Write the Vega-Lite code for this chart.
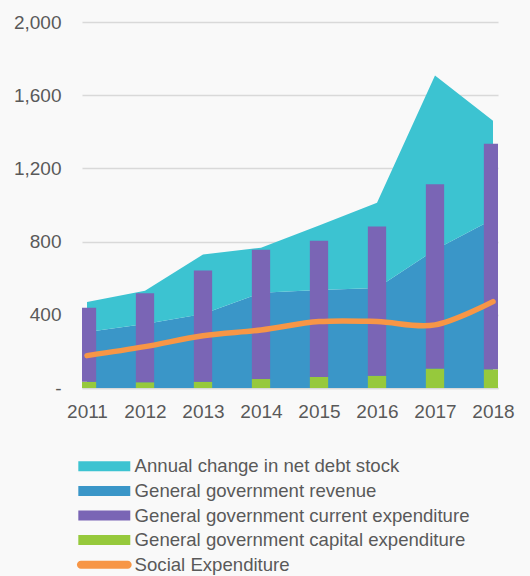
{
  "$schema": "https://vega.github.io/schema/vega-lite/v6.json",
  "autosize": "none",
  "width": 416,
  "height": 366,
  "padding": {"left": 82, "top": 22, "right": 32, "bottom": 188},
  "background": "#f9f9f9",
  "config": {
    "view": {"stroke": null},
    "font": "Liberation Sans",
    "axis": {"labelFont": "Liberation Sans", "labelColor": "#595959", "labelFontSize": 19},
    "legend": {"labelFont": "Liberation Sans", "labelColor": "#595959", "labelFontSize": 18.6, "labelLimit": 0}
  },
  "datasets": {
    "areas": [
      {"year": 2011, "series": "General government revenue", "value": 306},
      {"year": 2012, "series": "General government revenue", "value": 350},
      {"year": 2013, "series": "General government revenue", "value": 405},
      {"year": 2014, "series": "General government revenue", "value": 520},
      {"year": 2015, "series": "General government revenue", "value": 536},
      {"year": 2016, "series": "General government revenue", "value": 547},
      {"year": 2017, "series": "General government revenue", "value": 755},
      {"year": 2018, "series": "General government revenue", "value": 922},
      {"year": 2011, "series": "Annual change in net debt stock", "value": 164},
      {"year": 2012, "series": "Annual change in net debt stock", "value": 182},
      {"year": 2013, "series": "Annual change in net debt stock", "value": 324},
      {"year": 2014, "series": "Annual change in net debt stock", "value": 247},
      {"year": 2015, "series": "Annual change in net debt stock", "value": 352},
      {"year": 2016, "series": "Annual change in net debt stock", "value": 465},
      {"year": 2017, "series": "Annual change in net debt stock", "value": 953},
      {"year": 2018, "series": "Annual change in net debt stock", "value": 538}
    ],
    "bars": [
      {"year": 2011, "series": "General government capital expenditure", "value": 34},
      {"year": 2012, "series": "General government capital expenditure", "value": 31},
      {"year": 2013, "series": "General government capital expenditure", "value": 34},
      {"year": 2014, "series": "General government capital expenditure", "value": 49},
      {"year": 2015, "series": "General government capital expenditure", "value": 60},
      {"year": 2016, "series": "General government capital expenditure", "value": 67},
      {"year": 2017, "series": "General government capital expenditure", "value": 106},
      {"year": 2018, "series": "General government capital expenditure", "value": 102},
      {"year": 2011, "series": "General government current expenditure", "value": 405},
      {"year": 2012, "series": "General government current expenditure", "value": 487},
      {"year": 2013, "series": "General government current expenditure", "value": 608},
      {"year": 2014, "series": "General government current expenditure", "value": 707},
      {"year": 2015, "series": "General government current expenditure", "value": 744},
      {"year": 2016, "series": "General government current expenditure", "value": 815},
      {"year": 2017, "series": "General government current expenditure", "value": 1008},
      {"year": 2018, "series": "General government current expenditure", "value": 1233}
    ],
    "social": [
      {"year": 2011, "series": "Social Expenditure", "value": 177},
      {"year": 2012, "series": "Social Expenditure", "value": 226},
      {"year": 2013, "series": "Social Expenditure", "value": 286},
      {"year": 2014, "series": "Social Expenditure", "value": 317},
      {"year": 2015, "series": "Social Expenditure", "value": 363},
      {"year": 2016, "series": "Social Expenditure", "value": 363},
      {"year": 2017, "series": "Social Expenditure", "value": 345},
      {"year": 2018, "series": "Social Expenditure", "value": 472}
    ]
  },
  "encoding": {
    "x": {
      "field": "year", "type": "quantitative",
      "scale": {"domain": [2011, 2018], "nice": false, "zero": false},
      "axis": {
        "title": null, "values": [2011, 2012, 2013, 2014, 2015, 2016, 2017, 2018],
        "format": "d", "labelFlush": false, "ticks": false, "grid": false,
        "domainColor": "#d9d9d9", "domainWidth": 1.5, "labelPadding": 14
      }
    },
    "y": {
      "field": "value", "type": "quantitative",
      "scale": {"domain": [0, 2000], "nice": false},
      "axis": {
        "title": null, "values": [0, 400, 800, 1200, 1600, 2000],
        "labelExpr": "datum.value === 0 ? '-' : format(datum.value, ',')",
        "domain": false, "ticks": false, "labelPadding": 21,
        "gridColor": "#d9d9d9", "gridWidth": 1.5
      }
    },
    "color": {
      "field": "series", "type": "nominal",
      "scale": {
        "domain": ["Annual change in net debt stock", "General government revenue", "General government current expenditure", "General government capital expenditure", "Social Expenditure"],
        "range": ["#3cc3d1", "#3a96c8", "#7a65b5", "#96c93c", "#f79646"]
      },
      "legend": {
        "title": null, "orient": "none", "legendX": 13, "legendY": 435,
        "direction": "vertical", "padding": 0,
        "symbolSize": 108, "labelOffset": 21, "rowPadding": 5.6,
        "encode": {
          "symbols": {
            "update": {
              "shape": {"signal": "datum.value === 'Social Expenditure' ? 'M-4.5,-0.77H4.5A0.77,0.77,0,0,1,4.5,0.77H-4.5A0.77,0.77,0,0,1,-4.5,-0.77Z' : 'M-5,-0.96H5V0.96H-5Z'"},
              "fill": {"signal": "scale('color', datum.value)"},
              "stroke": {"value": "transparent"},
              "strokeWidth": {"value": 0},
              "opacity": {"value": 1},
              "fillOpacity": {"value": 1},
              "size": {"value": 108}
            }
          }
        }
      }
    }
  },
  "layer": [
    {
      "data": {"name": "areas"},
      "mark": {"type": "area", "opacity": 1},
      "encoding": {
        "y": {"field": "value", "type": "quantitative", "stack": "zero"},
        "order": {"field": "series", "sort": "descending"}
      }
    },
    {
      "data": {"name": "bars"},
      "mark": {"type": "bar", "width": 18.3, "clip": true},
      "encoding": {
        "y": {"field": "value", "type": "quantitative", "stack": "zero"},
        "order": {"field": "series", "sort": "ascending"}
      }
    },
    {
      "data": {"name": "social"},
      "mark": {"type": "line", "interpolate": "cardinal", "strokeWidth": 5.5, "strokeCap": "round", "clip": true},
      "encoding": {}
    }
  ]
}
